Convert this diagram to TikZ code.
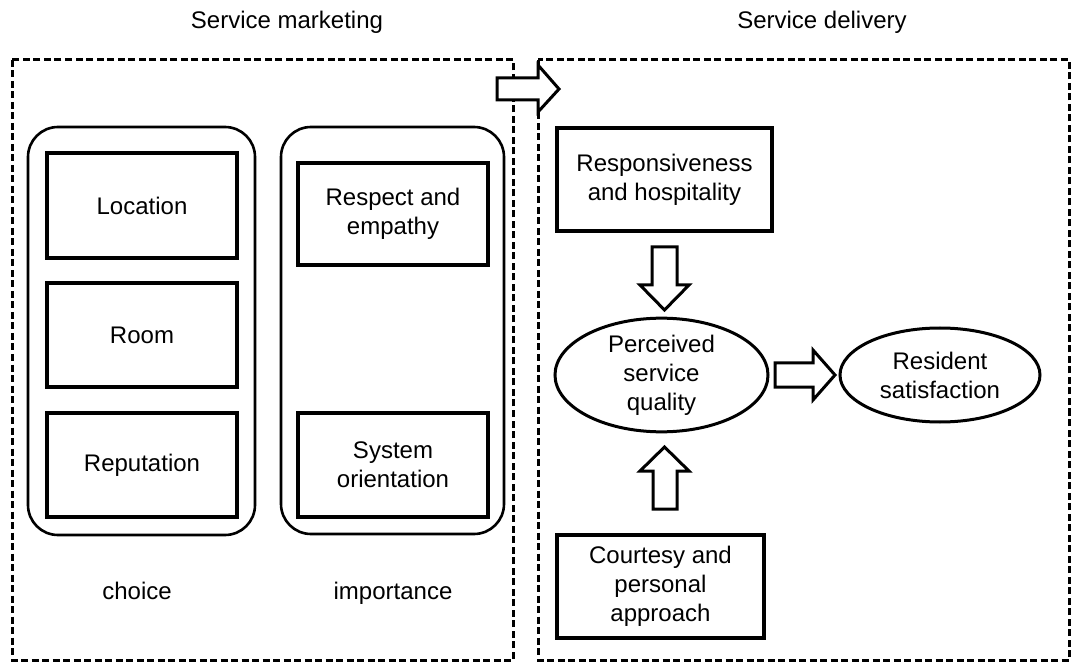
\documentclass[tikz,border=0pt]{standalone}
\usepackage{fontspec}
\setmainfont{Liberation Sans}
\usetikzlibrary{shapes.geometric}
\begin{document}
\begin{tikzpicture}[x=1pt,y=-1pt,
  every node/.style={font=\fontsize{24}{29}\selectfont, align=center, inner sep=0pt},
  box/.style={draw, line width=3.2pt, rectangle},
  oval/.style={draw, line width=3pt, ellipse},
  group/.style={draw, line width=2.6pt, rounded corners=30pt},
  frame/.style={draw, line width=3pt, dash pattern=on 7pt off 3.5pt},
  hollow/.style={draw, line width=3pt, fill=white, line join=miter}]
\useasboundingbox (0,0) rectangle (1072,663);
% titles
\node[anchor=base] (t1) at (287,29) {Service marketing};
\node[anchor=base] (t2) at (822,29) {Service delivery};
% dashed frames
\draw[frame] (12,60) rectangle (513,660);
\draw[frame] (538,60) rectangle (1069,660);
% groups
\draw[group] (28,127) rectangle (255,535);
\draw[group] (281,127) rectangle (504,534);
% left column
\node[box, minimum width=190pt, minimum height=105pt] (loc) at (142,205.5) {Location};
\node[box, minimum width=190pt, minimum height=104pt] (room) at (142,335) {Room};
\node[box, minimum width=190pt, minimum height=104pt] (rep) at (142,465) {Reputation};
\node[anchor=base] (choice) at (137,599) {choice};
% right column
\node[box, minimum width=190pt, minimum height=102pt] (resp) at (393,214) {Respect and\\empathy};
\node[box, minimum width=190pt, minimum height=104pt] (sys) at (393,465) {System\\orientation};
\node[anchor=base] (imp) at (393,599) {importance};
% service delivery
\node[box, minimum width=215pt, minimum height=103pt] (hosp) at (664.5,179.5) {Responsiveness\\and hospitality};
\node[oval, minimum width=213pt, minimum height=96pt] (pq) at (661.5,375) {Perceived\\service\\quality};
\node[oval, minimum width=200pt, minimum height=94pt] (rs) at (940,375) {Resident\\satisfaction};
\node[box, minimum width=207pt, minimum height=103pt] (court) at (660.5,586.5) {Courtesy and\\personal\\approach};
% hollow arrows
\draw[hollow] (497,78) -- (538,78) -- (538,65) -- (559,89) -- (538,112) -- (538,100) -- (497,100) -- cycle;
\draw[hollow] (652,247) -- (677,247) -- (677,285) -- (689,285) -- (664.5,310) -- (640,285) -- (652,285) -- cycle;
\draw[hollow] (653,509) -- (677,509) -- (677,471) -- (689,471) -- (664.5,447) -- (640,471) -- (653,471) -- cycle;
\draw[hollow] (775,363) -- (813,363) -- (813,350) -- (835,375) -- (813,400) -- (813,387) -- (775,387) -- cycle;
\end{tikzpicture}
\end{document}
